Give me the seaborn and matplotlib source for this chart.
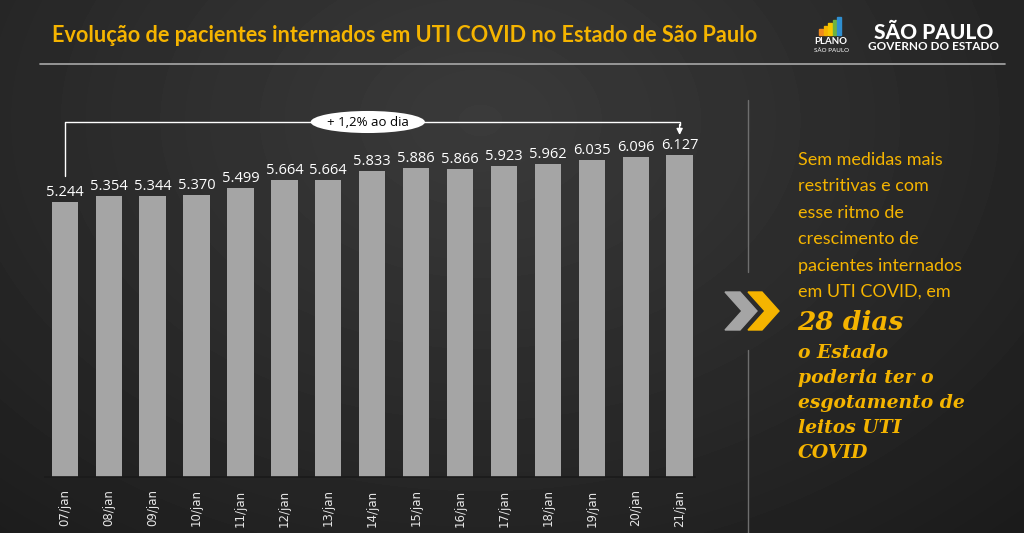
import numpy as np
import pandas as pd
import matplotlib
matplotlib.use("Agg")
import matplotlib.pyplot as plt
import seaborn as sns
from matplotlib.patches import Ellipse, Polygon, Rectangle

# ---- data ----
dates = ["07/jan", "08/jan", "09/jan", "10/jan", "11/jan", "12/jan", "13/jan", "14/jan",
         "15/jan", "16/jan", "17/jan", "18/jan", "19/jan", "20/jan", "21/jan"]
patients = [5244, 5354, 5344, 5370, 5499, 5664, 5664, 5833,
            5886, 5866, 5923, 5962, 6035, 6096, 6127]
value_labels = ["5.244", "5.354", "5.344", "5.370", "5.499", "5.664", "5.664", "5.833",
                "5.886", "5.866", "5.923", "5.962", "6.035", "6.096", "6.127"]
title = "Evolução de pacientes internados em UTI COVID no Estado de São Paulo"
growth_label = "+ 1,2% ao dia"
side_lines = ["Sem medidas mais", "restritivas e com", "esse ritmo de",
              "crescimento de", "pacientes internados", "em UTI COVID, em"]
highlight = "28 dias"
conclusion_lines = ["o Estado", "poderia ter o", "esgotamento de", "leitos UTI", "COVID"]

df = pd.DataFrame({"date": dates, "patients": patients})

W, H = 1024, 533
YEL = "#f5b400"
BAR = "#a5a5a5"

sns.set_theme(style="dark")
plt.rcParams["font.family"] = ["DejaVu Sans"]

fig = plt.figure(figsize=(W / 100, H / 100), dpi=100)
fig.patch.set_facecolor("#262626")

def fx(x):
    return x / W

def fy(y):
    return 1 - y / H

# background gradient
bg = fig.add_axes([0, 0, 1, 1], zorder=-10)
yy, xx = np.mgrid[0:H, 0:W]
d = np.sqrt(((xx - 480) / 700.0) ** 2 + ((yy - 120) / 500.0) ** 2)
img = np.clip(0.23 - 0.11 * d, 0.10, 0.23)
bg.imshow(img, cmap="gray", vmin=0, vmax=1, aspect="auto", extent=[0, W, H, 0])
bg.set_xlim(0, W)
bg.set_ylim(H, 0)
bg.axis("off")

# ---- bar chart ----
left, right, bottom, top = 45, 695, 477, 100
scale = 0.0525  # pixels per patient
ax = fig.add_axes([fx(left), fy(bottom), fx(right - left), (bottom - top) / H])
ax.patch.set_alpha(0)
sns.barplot(data=df, x="date", y="patients", color=BAR, saturation=1, width=0.6,
            edgecolor="none", linewidth=0, ax=ax)
ax.set_xlim(-0.45, 14.35)
ax.set_ylim(0, (bottom - top) / scale)
ax.set_xlabel("")
ax.set_ylabel("")
ax.set_yticks([])
ax.grid(False)
for s in ["top", "left", "right"]:
    ax.spines[s].set_visible(False)
ax.spines["bottom"].set_color("#1a1a1a")
ax.spines["bottom"].set_linewidth(1.2)
ax.tick_params(axis="x", length=0, pad=9, colors="#e6e6e6")
ax.set_xticks(range(len(dates)))
ax.set_xticklabels(dates, rotation=90, fontsize=8.5, color="#e6e6e6", family=["DejaVu Sans"])

for i, (v, lab) in enumerate(zip(patients, value_labels)):
    ax.annotate(lab, (i, v), xytext=(0, 1.5), textcoords="offset points",
                ha="center", va="bottom", color="white", fontsize=10.5,
                family=["Open Sans", "DejaVu Sans"])

# bracket annotation (in axes data units)
ybr = (bottom - 122) / scale
y_left_start = (bottom - 176) / scale
y_arrow_tip = (bottom - 135) / scale
ax.plot([0, 0, 14, 14], [y_left_start, ybr, ybr, ybr - 60],
        color="white", lw=1, clip_on=False)
ax.annotate("", xy=(14, y_arrow_tip), xytext=(14, ybr - 50),
            arrowprops=dict(arrowstyle="-|>", color="white", lw=1, mutation_scale=9,
                            shrinkA=0, shrinkB=0),
            annotation_clip=False)
ax.add_patch(Ellipse((6.9, ybr), 2.6, 420, facecolor="white", edgecolor="none",
                     clip_on=False, zorder=5))
ax.text(6.9, ybr, growth_label, ha="center", va="center", fontsize=9.5, color="black",
        zorder=6, family=["Open Sans", "DejaVu Sans"])

# ---- header ----
fig.text(fx(52), fy(35), title, color=YEL, fontsize=15.6, fontweight="bold",
         ha="left", va="center", family=["Lato", "DejaVu Sans"])
bg.plot([40, 1005], [64, 64], color="#a8a8a8", lw=1.2)

# logos (approximation with shapes and text)
cols = ["#f08a1c", "#f5b400", "#f5c800", "#6cb33f", "#2f8fd1"]
for k, c in enumerate(cols):
    h = 6 + k * 3
    bg.add_patch(Rectangle((819 + k * 4.6, 35 - h), 3.6, h, color=c))
bg.text(831, 42, "PLANO", color="white", fontsize=7, fontweight="bold",
        ha="center", va="center", family=["Lato", "DejaVu Sans"])
bg.text(831, 51, "SÃO PAULO", color="white", fontsize=4.5,
        ha="center", va="center", family=["Lato", "DejaVu Sans"])
bg.text(934, 32, "SÃO PAULO", color="white", fontsize=15, fontweight="black",
        ha="center", va="center", family=["Lato", "DejaVu Sans"])
bg.text(934, 47, "GOVERNO DO ESTADO", color="white", fontsize=8.5, fontweight="bold",
        ha="center", va="center", family=["Lato", "DejaVu Sans"])

# ---- right panel ----
bg.plot([748, 748], [100, 272], color="#6e6e6e", lw=1)
bg.plot([748, 748], [350, 533], color="#6e6e6e", lw=1)
bg.add_patch(Polygon([[725, 292], [740, 292], [757, 311], [740, 330], [725, 330], [742, 311]],
                     closed=True, color="#a5a5a5"))
bg.add_patch(Polygon([[748, 292], [762, 292], [779, 311], [762, 330], [748, 330], [765, 311]],
                     closed=True, color=YEL))

y0 = 160
for k, line in enumerate(side_lines):
    bg.text(798, y0 + k * 26.4, line, color=YEL, fontsize=13, ha="left", va="center",
            family=["Lato", "DejaVu Sans"])
bg.text(797, 322, highlight, color=YEL, fontsize=19, fontweight="bold", fontstyle="italic",
        ha="left", va="center", family=["DejaVu Serif"])
for k, line in enumerate(conclusion_lines):
    bg.text(798, 353 + k * 25, line, color=YEL, fontsize=13.5, fontweight="bold",
            fontstyle="italic", ha="left", va="center", family=["DejaVu Serif"])

fig.savefig("out.png", dpi=100, facecolor=fig.get_facecolor())
